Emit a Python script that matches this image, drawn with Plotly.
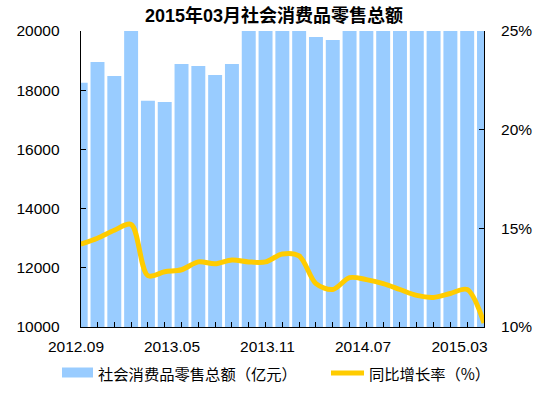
import plotly.graph_objects as go

# ---------------- data ----------------
months = ["2012.09", "2012.10", "2012.11", "2012.12",
          "2013.03", "2013.04", "2013.05", "2013.06", "2013.07", "2013.08",
          "2013.09", "2013.10", "2013.11", "2013.12",
          "2014.03", "2014.04", "2014.05", "2014.06", "2014.07", "2014.08",
          "2014.09", "2014.10", "2014.11", "2014.12", "2015.03"]
sales = [18250, 18950, 18480, 20330,
         17640, 17600, 18885, 18820, 18515, 18885,
         20650, 21490, 21010, 23060,
         19800, 19700, 21250, 21290, 21150, 21680,
         23740, 25200, 23475, 25800, 22880]
growth = [14.2, 14.5, 14.9, 15.2,
          12.6, 12.8, 12.9, 13.3, 13.2, 13.4,
          13.3, 13.3, 13.7, 13.6,
          12.2, 11.9, 12.5, 12.4, 12.2, 11.9,
          11.6, 11.5, 11.7, 11.9, 10.2]
tick_labels = ["2012.09", "2013.05", "2013.11", "2014.07", "2015.03"]
title_text = "2015年03月社会消费品零售总额"
bar_name = "社会消费品零售总额（亿元）"
line_name = "同比增长率（%）"

# ---------------- layout helpers ----------------
W, H = 551, 397
ML, MR, MT, MB = 40, 40, 31, 70
PW, PH = W - ML - MR, H - MT - MB
PLOT_L, PLOT_R = 80.7, 484.0


def px_x(px):
    return (px - ML) / PW


def px_y(py):
    return (H - MB - py) / PH


BAR_COLOR = "#99CCFF"
LINE_COLOR = "#FFCC00"
LAT = "Liberation Sans, Arial, sans-serif"
CJK = "Noto Sans CJK SC, Liberation Sans, sans-serif"

fig = go.Figure()
fig.add_trace(go.Bar(x=months, y=sales, name=bar_name, marker=dict(color=BAR_COLOR, line=dict(width=0)),
                     showlegend=False, xaxis="x", yaxis="y"))
fig.add_trace(go.Scatter(x=months, y=growth, name=line_name, mode="lines",
                         line=dict(color=LINE_COLOR, width=5, shape="spline", smoothing=0.9),
                         showlegend=False, xaxis="x", yaxis="y2"))
# empty helper trace so that the label axis (x2) is drawn
fig.add_trace(go.Scatter(x=[], y=[], mode="markers", showlegend=False, hoverinfo="skip",
                         xaxis="x2", yaxis="y"))

label_px = [76, 172, 267.5, 363, 459.5]

fig.update_layout(
    width=W, height=H,
    margin=dict(l=ML, r=MR, t=MT, b=MB, pad=0),
    paper_bgcolor="white", plot_bgcolor="rgba(0,0,0,0)",
    bargap=0.17,
    showlegend=False,
    title=dict(text="<b>" + title_text + "</b>", x=274 / W, xanchor="center",
               y=1 - 15.5 / H, yanchor="middle", yref="container",
               font=dict(family="Liberation Sans, Noto Sans CJK SC, sans-serif", size=18, color="black")),
    xaxis=dict(type="category", domain=[px_x(PLOT_L), px_x(PLOT_R)], range=[0, len(months) - 1],
               showline=True, linecolor="black", linewidth=1, ticks="inside", ticklen=5,
               tickcolor="black", showticklabels=False, showgrid=False, zeroline=False,
               anchor="y"),
    xaxis2=dict(domain=[0, 1], range=[ML, W - MR], anchor="y", showline=False, ticks="",
                tickmode="array", tickvals=label_px, ticktext=tick_labels,
                showgrid=False, zeroline=False, ticklabelstandoff=8,
                tickfont=dict(family=LAT, size=15.5, color="black")),
    yaxis=dict(range=[10000, 20000], dtick=2000, tickformat="d", showline=True, linecolor="black",
               linewidth=1, ticks="inside", ticklen=5, tickcolor="black", showgrid=False,
               zeroline=False, anchor="x", ticklabelstandoff=17,
               tickfont=dict(family=LAT, size=15.5, color="black")),
    yaxis2=dict(range=[10, 25], dtick=5, ticksuffix="%", overlaying="y", side="right", anchor="x",
                showline=True, linecolor="black", linewidth=1, ticks="inside", ticklen=5,
                tickcolor="black", showgrid=False, zeroline=False, ticklabelstandoff=13,
                tickfont=dict(family=LAT, size=15.5, color="black")),
)

# custom legend (bottom)
fig.add_shape(type="rect", xref="paper", yref="paper",
              x0=px_x(62), x1=px_x(93), y0=px_y(377.5), y1=px_y(367.5),
              fillcolor=BAR_COLOR, line=dict(width=0))
fig.add_shape(type="line", xref="paper", yref="paper",
              x0=px_x(331), x1=px_x(364), y0=px_y(373), y1=px_y(373),
              line=dict(color=LINE_COLOR, width=5))
fig.add_annotation(text=bar_name, xref="paper", yref="paper", x=px_x(96), y=px_y(373),
                   xanchor="left", yanchor="middle", showarrow=False,
                   font=dict(family=CJK, size=15.3, color="black"))
fig.add_annotation(text=line_name, xref="paper", yref="paper", x=px_x(367), y=px_y(373),
                   xanchor="left", yanchor="middle", showarrow=False,
                   font=dict(family=CJK, size=15.3, color="black"))

fig.write_html("out.html", config={"displayModeBar": False},
               post_script="document.body.style.margin='0';")
